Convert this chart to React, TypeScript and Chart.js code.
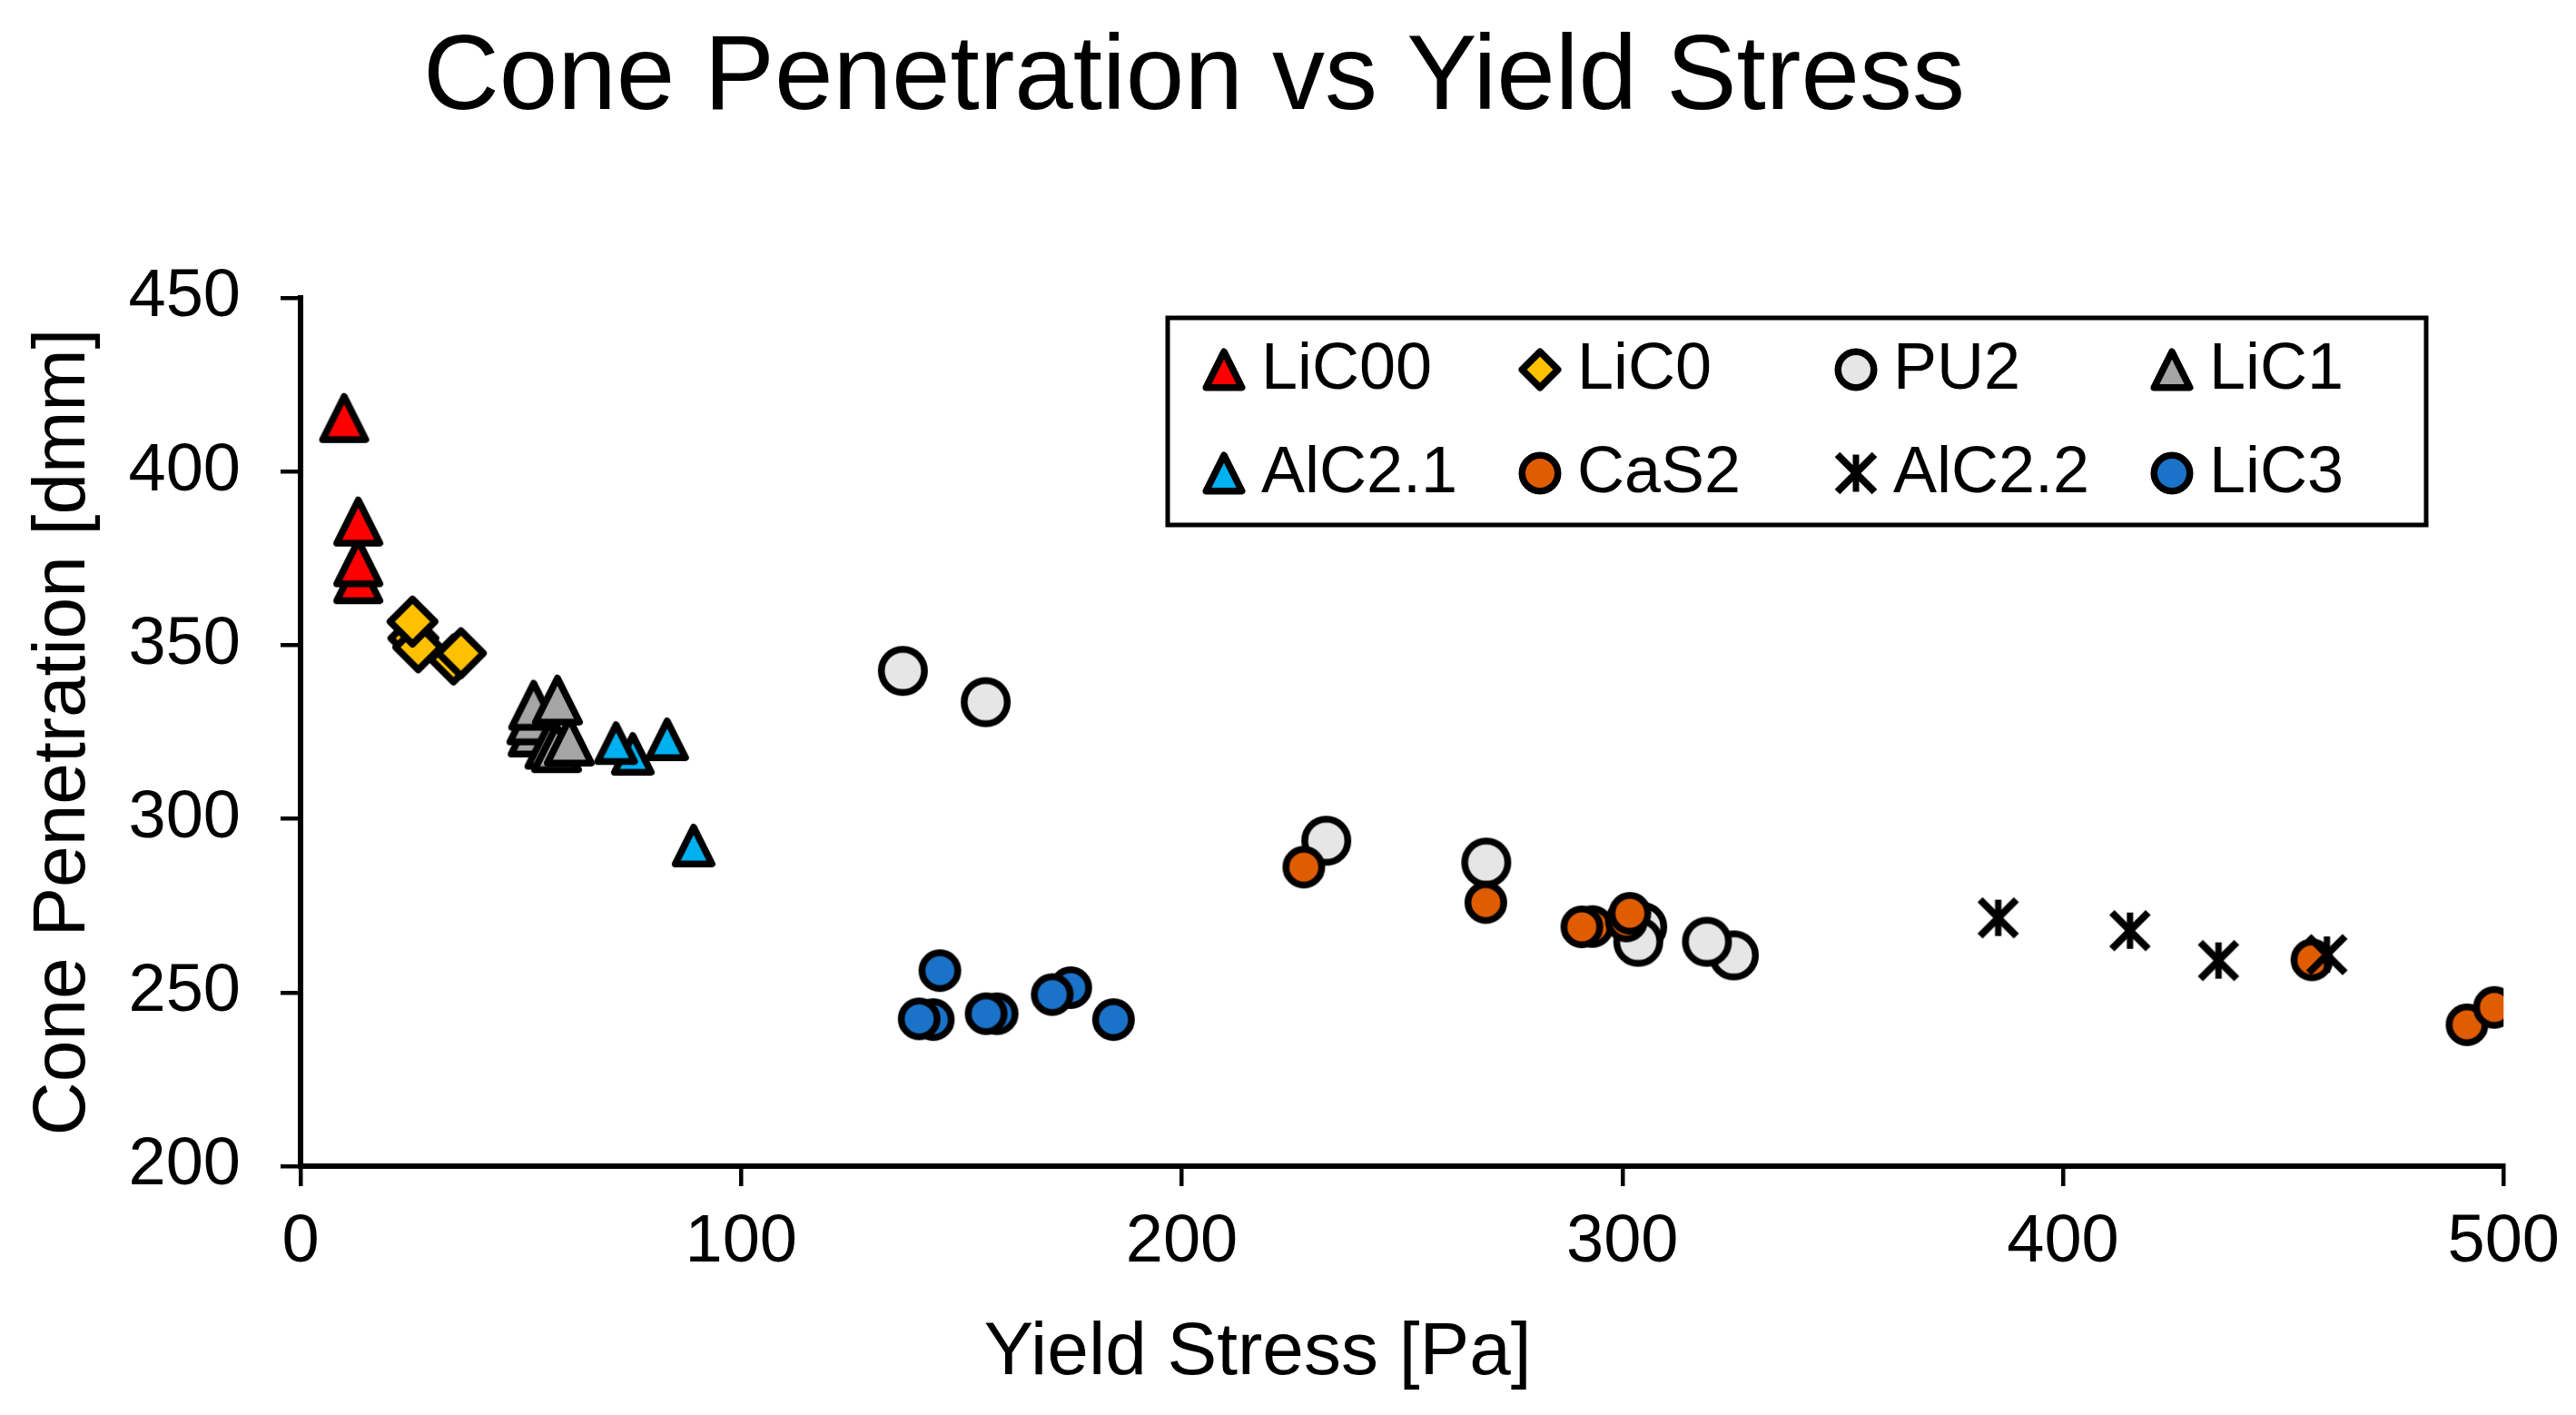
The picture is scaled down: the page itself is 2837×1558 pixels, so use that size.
import React, { useEffect, useRef } from 'react';
import { Chart, registerables } from 'chart.js';

Chart.register(...registerables);

const FONT = '"Liberation Sans", Arial, Helvetica, sans-serif';

const TITLE = 'Cone Penetration vs Yield Stress';
const X_TITLE = 'Yield Stress [Pa]';
const Y_TITLE = 'Cone Penetration [dmm]';

const X_MIN = 0;
const X_MAX = 500;
const X_STEP = 100;
const Y_MIN = 200;
const Y_MAX = 450;
const Y_STEP = 50;

const seriesLabels = ['LiC00', 'LiC0', 'PU2', 'LiC1', 'AlC2.1', 'CaS2', 'AlC2.2', 'LiC3'];

const lic00X = [13.1, 13.1, 13.1, 9.9];
const lic00Y = [369.0, 373.9, 385.6, 415.4];

const lic0X = [25.6, 26.7, 34.7, 36.4, 25.4];
const lic0Y = [352.0, 349.4, 345.9, 347.7, 356.8];

const pu2X = [136.7, 155.5, 232.8, 269.1, 304.5, 303.6, 325.3, 319.2];
const pu2Y = [342.6, 333.6, 293.7, 287.4, 268.9, 264.6, 260.7, 264.6];

const lic1X = [52.8, 52.5, 56.6, 58.1, 61.0, 52.9, 58.3];
const lic1Y = [325.0, 328.5, 321.5, 320.5, 322.4, 332.7, 334.2];

const alc21X = [75.4, 71.6, 83.2, 89.2];
const alc21Y = [318.7, 321.8, 322.9, 292.3];

const cas2X = [227.7, 269.0, 293.2, 290.8, 300.9, 301.7, 456.5, 491.7, 497.9];
const cas2Y = [286.1, 275.9, 269.0, 268.9, 270.6, 272.8, 259.4, 240.7, 245.7];

const alc22X = [385.3, 415.2, 435.3, 459.9];
const alc22Y = [271.5, 267.8, 259.2, 260.9];

const lic3X = [143.6, 140.4, 145.1, 158.1, 155.6, 174.8, 170.6, 184.5];
const lic3Y = [242.2, 242.4, 256.3, 243.9, 243.9, 251.4, 249.4, 242.2];

const seriesX = [lic00X, lic0X, pu2X, lic1X, alc21X, cas2X, alc22X, lic3X];
const seriesY = [lic00Y, lic0Y, pu2Y, lic1Y, alc21Y, cas2Y, alc22Y, lic3Y];

const seriesKinds = ['triangle', 'diamond', 'circle', 'triangle', 'triangle', 'circle', 'star', 'circle'];
const seriesFills = ['#FF0000', '#FFC000', '#E7E6E6', '#A5A5A5', '#00B0F0', '#E05C00', '#000000', '#1A73C8'];
const seriesSizes = [55, 57, 55, 56, 48, 47, 46, 47];

const LEGEND_SIZE = 47;
const MARKER_LW = 7.5;

function drawMarker(ctx: CanvasRenderingContext2D, kind: string, fill: string, S: number, cx: number, cy: number) {
  ctx.save();
  ctx.strokeStyle = '#000';
  ctx.fillStyle = fill;
  ctx.lineJoin = 'round';
  ctx.lineWidth = MARKER_LW;
  if (kind === 'circle') {
    const r = S / 2 - MARKER_LW / 2;
    ctx.beginPath();
    ctx.arc(cx, cy, r, 0, Math.PI * 2);
    ctx.fill();
    ctx.stroke();
  } else if (kind === 'triangle') {
    const h = S - MARKER_LW;
    ctx.beginPath();
    ctx.moveTo(cx, cy - h / 2);
    ctx.lineTo(cx + h / 2, cy + h / 2);
    ctx.lineTo(cx - h / 2, cy + h / 2);
    ctx.closePath();
    ctx.fill();
    ctx.stroke();
  } else if (kind === 'diamond') {
    const d = S / 2 - MARKER_LW / 2;
    ctx.beginPath();
    ctx.moveTo(cx, cy - d);
    ctx.lineTo(cx + d, cy);
    ctx.lineTo(cx, cy + d);
    ctx.lineTo(cx - d, cy);
    ctx.closePath();
    ctx.fill();
    ctx.stroke();
  } else if (kind === 'star') {
    const a = S / 2 - 3;
    ctx.lineWidth = 8;
    ctx.lineCap = 'butt';
    ctx.beginPath();
    ctx.moveTo(cx - a, cy - a);
    ctx.lineTo(cx + a, cy + a);
    ctx.moveTo(cx + a, cy - a);
    ctx.lineTo(cx - a, cy + a);
    ctx.stroke();
    ctx.lineWidth = 7;
    ctx.beginPath();
    ctx.moveTo(cx, cy - a);
    ctx.lineTo(cx, cy + a);
    ctx.stroke();
  }
  ctx.restore();
}

function makeMarkerCanvas(kind: string, fill: string, S: number): HTMLCanvasElement {
  const size = Math.ceil(S + 8);
  const c = document.createElement('canvas');
  c.width = size;
  c.height = size;
  const cctx = c.getContext('2d') as CanvasRenderingContext2D;
  drawMarker(cctx, kind, fill, S, size / 2, size / 2);
  return c;
}

const overlayPlugin = {
  id: 'overlayText',
  afterDraw(chart: any) {
    const ctx: CanvasRenderingContext2D = chart.ctx;
    ctx.save();
    ctx.fillStyle = '#000';
    ctx.textAlign = 'center';
    ctx.textBaseline = 'alphabetic';
    ctx.font = `116px ${FONT}`;
    ctx.fillText(TITLE, 1315, 120);
    ctx.font = `82px ${FONT}`;
    ctx.fillText(X_TITLE, 1385, 1513);

    // legend box
    ctx.lineWidth = 5;
    ctx.strokeStyle = '#000';
    ctx.fillStyle = '#fff';
    ctx.beginPath();
    ctx.rect(1286, 350, 1386, 228);
    ctx.fill();
    ctx.stroke();

    ctx.font = `72px ${FONT}`;
    ctx.textAlign = 'left';
    ctx.textBaseline = 'middle';
    for (let i = 0; i < seriesLabels.length; i++) {
      const col = i % 4;
      const row = Math.floor(i / 4);
      const mx = 1348 + col * 348;
      const my = 407 + row * 114;
      drawMarker(ctx, seriesKinds[i], seriesFills[i], LEGEND_SIZE, mx, my);
      ctx.fillStyle = '#000';
      ctx.fillText(seriesLabels[i], mx + 41, my + 1);
    }
    ctx.restore();
  },
};

export default function App() {
  const canvasRef = useRef<HTMLCanvasElement | null>(null);

  useEffect(() => {
    document.body.style.margin = '0';
    const canvas = canvasRef.current;
    if (!canvas) return;
    const n = seriesLabels.length;
    const datasets = seriesLabels.map((label, i) => ({
      label,
      data: seriesX[i].map((x, j) => ({ x, y: seriesY[i][j] })),
      pointStyle: makeMarkerCanvas(seriesKinds[i], seriesFills[i], seriesSizes[i]),
      pointRadius: seriesSizes[i] / 2,
      backgroundColor: seriesFills[i],
      borderColor: '#000',
      showLine: false,
      order: n - i,
    }));

    const chart = new Chart(canvas, {
      type: 'scatter',
      data: { datasets },
      options: {
        responsive: false,
        devicePixelRatio: 1,
        animation: false,
        events: [],
        layout: { padding: { top: 328, right: 69, bottom: 0, left: 0 } },
        plugins: {
          legend: { display: false },
          title: { display: false },
          tooltip: { enabled: false },
        },
        scales: {
          x: {
            type: 'linear',
            min: X_MIN,
            max: X_MAX,
            afterFit: (scale: any) => { scale.height = 274; },
            ticks: {
              stepSize: X_STEP,
              color: '#000',
              padding: 18,
              font: { family: FONT, size: 74 },
              maxRotation: 0,
            },
            grid: {
              display: true,
              drawOnChartArea: false,
              drawTicks: true,
              tickLength: 22,
              color: '#000',
              tickWidth: 4.5,
              lineWidth: 4.5,
            },
            border: { display: true, color: '#000', width: 6 },
          },
          y: {
            type: 'linear',
            min: Y_MIN,
            max: Y_MAX,
            afterFit: (scale: any) => { scale.width = 331; },
            ticks: {
              stepSize: Y_STEP,
              color: '#000',
              padding: 44,
              font: { family: FONT, size: 74 },
            },
            grid: {
              display: true,
              drawOnChartArea: false,
              drawTicks: true,
              tickLength: 22,
              color: '#000',
              tickWidth: 4.5,
              lineWidth: 4.5,
            },
            border: { display: true, color: '#000', width: 6 },
            title: {
              display: true,
              text: Y_TITLE,
              color: '#000',
              font: { family: FONT, size: 82 },
              padding: { top: 21, bottom: 0 },
            },
          },
        },
      },
      plugins: [overlayPlugin],
    } as any);

    return () => {
      chart.destroy();
    };
  }, []);

  return (
    <div style={{ position: 'fixed', left: 0, top: 0, width: 2837, height: 1558, background: '#fff' }}>
      <canvas
        ref={canvasRef}
        width={2837}
        height={1558}
        style={{ width: '2837px', height: '1558px', display: 'block' }}
      />
    </div>
  );
}
